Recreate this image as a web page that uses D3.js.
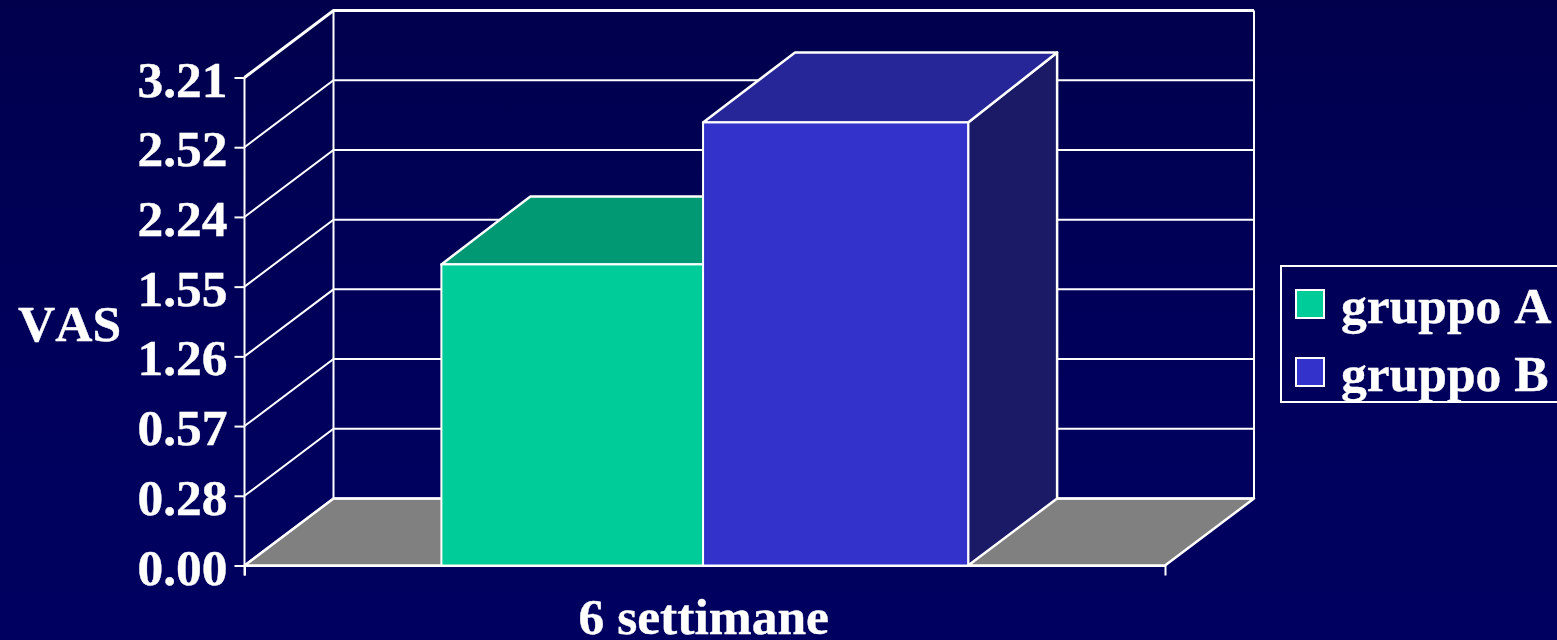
<!DOCTYPE html>
<html lang="en">
<head>
<meta charset="UTF-8">
<title>VAS 6 settimane</title>
<script src="https://d3js.org/d3.v7.min.js"></script>
<style>
    html, body { margin: 0; padding: 0; background: #000060; overflow: hidden; }
    svg { display: block; }
    text { font-family: "Liberation Serif", serif; font-weight: bold; font-size: 51.5px; font-kerning: none; fill: #fff; stroke: #fff; stroke-width: 0.4; }
    .axis path, .axis line { stroke: #fff; stroke-width: 2; fill: none; }
</style>
</head>
<body>
<svg width="1557" height="640"></svg>
<script>
// data
var categories = ["6 settimane"];
var seriesNames = ["gruppo A", "gruppo B"];
var seriesValues = [1.77, 2.765];
var yTickLabels = [0.00, 0.28, 0.57, 1.26, 1.55, 2.24, 2.52, 3.21];
var frontColors = ["#00CC99", "#3333CC"];
var topColors = ["#009973", "#262699"];
var sideColors = ["#00664C", "#1A1A66"];

var svg = d3.select("svg");
var W = 1557, H = 640;

// background fades a little towards the bottom
var grad = svg.append("defs").append("linearGradient")
    .attr("id", "bg").attr("x1", 0).attr("y1", 0).attr("x2", 0).attr("y2", 1);
grad.append("stop").attr("offset", "0%").attr("stop-color", "#00004d");
grad.append("stop").attr("offset", "60%").attr("stop-color", "#00005c");
grad.append("stop").attr("offset", "100%").attr("stop-color", "#000060");
svg.append("rect").attr("width", W).attr("height", H).attr("fill", "url(#bg)");

// oblique depth of the 3d box
var depthX = 89, depthY = 67;
var left = 244.5, right = 1165, floorY = 565.5, topY = 77.5;
var yRange = yTickLabels.map(function(d, i) {
    return floorY + (topY - floorY) * i / (yTickLabels.length - 1);
});

// the axis labels are not evenly spaced in value, so the scale is piecewise
var y = d3.scaleLinear().domain(yTickLabels).range(yRange);
var x = d3.scaleBand().domain(categories).range([left, right]);
var xInner = d3.scaleBand().domain(seriesNames)
    .range([x(categories[0]), x(categories[0]) + x.bandwidth()])
    .paddingInner(0).paddingOuter(0.7476);

function pts(a) { return a.map(function(p) { return p.join(","); }).join(" "); }

var line = { stroke: "#fff", "stroke-width": 2, fill: "none" };
function styled(sel, s) { Object.keys(s).forEach(function(k) { sel.attr(k, s[k]); }); return sel; }

// floor
styled(svg.append("polygon"), { fill: "#808080", stroke: "#fff", "stroke-width": 2.5, "stroke-linejoin": "round" })
    .attr("points", pts([
        [left, y(0)], [right, y(0)],
        [right + depthX, y(0) - depthY], [left + depthX, y(0) - depthY]
    ]));

// walls and gridlines
var grid = svg.append("g");
yTickLabels.forEach(function(d) {
    styled(grid.append("polyline"), line)
        .attr("stroke-width", d === 3.21 ? 3 : 2)
        .attr("points", pts([
            [left, y(d)], [left + depthX, y(d) - depthY], [right + depthX, y(d) - depthY]
        ]));
});
styled(grid.append("line"), line)
    .attr("x1", left + depthX).attr("x2", left + depthX)
    .attr("y1", y(0) - depthY).attr("y2", y(3.21) - depthY);
styled(grid.append("line"), line)
    .attr("x1", right + depthX).attr("x2", right + depthX)
    .attr("y1", y(0) - depthY).attr("y2", y(3.21) - depthY);

// bars, back to front; the picture's bars are not quite regular
var barLift = [68, 70];
var barLeftShift = [0, -1.7];
var topSkew = [0, 3];
var bars = svg.append("g").selectAll("g")
    .data(seriesNames)
    .enter().append("g");

bars.each(function(name, i) {
    var g = d3.select(this);
    var x0 = xInner(name) + barLeftShift[i], x1 = xInner(name) + xInner.bandwidth();
    var yv = y(seriesValues[i]), lift = barLift[i];
    var edge = { stroke: "#fff", "stroke-width": 2.5, "stroke-linejoin": "round" };
    styled(g.append("polygon"), edge).attr("fill", sideColors[i]).attr("points", pts([
        [x1, y(0)], [x1 + depthX, y(0) - depthY], [x1 + depthX, yv - lift], [x1, yv]
    ]));
    styled(g.append("polygon"), edge).attr("fill", topColors[i]).attr("points", pts([
        [x0, yv], [x0 + depthX + topSkew[i], yv - lift], [x1 + depthX, yv - lift], [x1, yv]
    ]));
    styled(g.append("rect"), { stroke: "#fff", "stroke-width": 2 }).attr("fill", frontColors[i])
        .attr("x", x0).attr("y", yv).attr("width", x1 - x0).attr("height", y(0) - yv);
});

// axes
var yAxis = d3.axisLeft(y).tickValues(yTickLabels).tickSize(10).tickSizeOuter(0)
    .tickFormat(d3.format(".2f")).tickPadding(7);
var yG = svg.append("g").attr("class", "axis")
    .attr("transform", "translate(" + left + ",0)").call(yAxis);
yG.select("path").remove();
styled(yG.append("line"), line).attr("x1", 0).attr("x2", 0).attr("y1", y(3.21)).attr("y2", y(0) + 10);
yG.selectAll("text").attr("dy", null).attr("y", 18.5);
yG.attr("font-size", null).attr("font-family", null);

var xAxis = d3.axisBottom(x).tickValues([]).tickSizeOuter(10);
var xG = svg.append("g").attr("class", "axis")
    .attr("transform", "translate(0," + y(0) + ")").call(xAxis);

svg.append("text").attr("x", x(categories[0]) + x.bandwidth() / 2 - 1).attr("y", 634)
    .attr("text-anchor", "middle").text(categories[0]);
svg.append("text").attr("x", 18).attr("y", 341).text("VAS");

// legend
var legend = svg.append("g");
styled(legend.append("rect"), { fill: "none", stroke: "#fff", "stroke-width": 2 })
    .attr("x", 1281).attr("y", 266).attr("width", 290).attr("height", 136);
var items = legend.selectAll("g.item").data(seriesNames).enter().append("g").attr("class", "item")
    .attr("transform", function(d, i) { return "translate(1296," + (290 + i * 68) + ")"; });
items.append("rect").attr("width", 28).attr("height", 28)
    .attr("fill", function(d, i) { return frontColors[i]; })
    .attr("stroke", "#fff").attr("stroke-width", 2);
items.append("text").attr("x", 45).attr("y", 33).text(function(d) { return d; });
</script>
</body>
</html>
